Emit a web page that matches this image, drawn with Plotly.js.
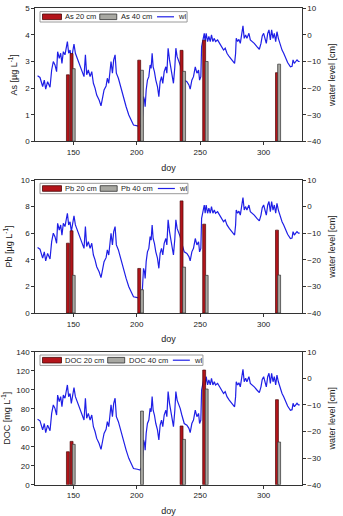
<!DOCTYPE html>
<html>
<head>
<meta charset="utf-8">
<script src="https://cdn.plot.ly/plotly-3.0.1.min.js"></script>
<style>
  html, body { margin: 0; padding: 0; background: #fff; }
  #chart { width: 343px; height: 516px; }
</style>
</head>
<body>
<div id="chart"></div>
<script>
// Sampling days (day of year) of the soil-solution samples
const days20 = [145.7, 148.6, 201.9, 235.3, 253.1, 310.5];
const days40 = [150.3, 204.1, 237.3, 255.1, 312.2];

// Concentrations at 20 cm and 40 cm depth
const as20  = [2.5, 3.3, 3.05, 3.42, 3.8, 2.58];
const as40  = [2.73, 2.67, 2.63, 3.0, 2.9];
const pb20  = [5.25, 6.18, 3.35, 8.43, 6.68, 6.23];
const pb40  = [2.83, 1.75, 3.45, 2.83, 2.85];
const doc20 = [34.7, 45.6, null, 61.8, 120.7, 89.5];
const doc40 = [42.5, 77.5, 47.7, 100.7, 44.9];

// Water level record
const wlDay = [121.8,123.7,125.8,127.1,128.2,129.7,131.6,132.9,134.2,135.5,136.8,137.6,138.9,140.0,141.0,142.1,143.4,144.2,145.3,146.3,147.4,148.4,149.5,150.5,151.6,153.9,156.6,158.4,159.5,160.5,161.8,163.2,164.5,165.8,167.1,168.4,170.3,171.8,173.2,174.2,175.8,176.8,177.9,178.9,179.7,180.8,181.8,182.9,183.9,185.5,187.4,189.5,191.6,193.7,195.8,197.4,200.5,202.6,204.2,204.7,205.3,206.1,206.6,207.4,208.4,209.5,210.5,211.3,212.1,212.9,213.9,215.0,216.3,217.4,218.4,219.5,220.5,221.6,222.9,223.7,224.7,225.8,226.8,227.9,228.9,230.0,230.8,231.8,232.9,234.2,235.5,237.4,239.5,241.1,242.1,243.4,244.7,246.1,247.4,248.7,249.5,250.5,251.1,252.1,253.2,253.9,254.7,255.8,256.8,257.9,258.9,260.0,261.1,262.1,263.7,265.3,267.1,268.4,269.7,271.1,272.9,275.0,277.1,277.9,278.4,279.5,280.5,281.6,282.6,283.7,284.7,285.8,286.8,288.4,289.5,291.1,292.6,294.7,296.6,297.9,298.9,300.0,301.1,302.1,303.2,304.2,305.3,306.3,307.4,308.4,309.5,310.5,311.6,313.2,314.5,315.8,317.4,318.9,321.1,322.4,323.2,324.2,325.3,326.3,327.4,328.4];
const wlLevel = [-15.4,-16,-19.4,-17,-20.4,-17.6,-19.7,-13.2,-10,-11.3,-13.8,-6.3,-8.8,-6.9,-10.7,-6.3,-7.5,-5.4,-2.5,-6.9,-5.7,-9.4,-6.9,-3.5,-6.9,-10,-13.2,-15.7,-7.5,-15,-13.2,-15.7,-13.8,-18.2,-20,-22.6,-24.5,-26.7,-23.2,-20.7,-19.2,-16.3,-18.2,-13.2,-10,-14.4,-9.4,-7.5,-14.4,-16.3,-20,-23.8,-27,-30.1,-32.6,-33.9,-34.2,-34.5,-33.2,-27,-23.2,-24.5,-27,-20.7,-17,-15.7,-11.3,-12.6,-6.9,-12,-13.8,-17,-19.4,-23.2,-17.6,-15.7,-18.2,-13.8,-12,-14.4,-5,-9.4,-12,-16.3,-18.2,-12,-5,-8.2,-9.4,-11.3,-13.8,-17,-17.6,-18.8,-20.4,-17,-15.7,-12,-14.4,-13.2,-17,-15.7,-4.4,-2.5,0.6,-2.5,0.6,-2.5,-0.6,-2.5,0,-2.5,-1.3,-2.5,-1.9,-3.2,-4.4,-5.7,-5,-6.9,-8.2,-9.4,-10.7,-6.9,-1.3,-2.5,-1.7,-3.2,0.6,3.4,-1.3,0,-1.3,0.6,-1.9,-2.5,-3.2,-4.4,-5.4,-3.2,-0.4,0.6,-1.9,-3.2,0.6,1.9,-1.9,1.9,-1.3,0.6,-2.5,1.2,-1.3,-3.8,-5.7,-6.9,-8.8,-10.4,-12,-11.8,-9.4,-10.7,-10,-9.4,-10,-10];

// Panel definitions
const panels = [
  { name: 'As',  unit: 'µg L<sup>-1</sup>', v20: as20,  v40: as40,  range: [0, 5],   dtick: 1 },
  { name: 'Pb',  unit: 'µg L<sup>-1</sup>', v20: pb20,  v40: pb40,  range: [0, 10],  dtick: 2 },
  { name: 'DOC', unit: 'mg L<sup>-1</sup>', v20: doc20, v40: doc40, range: [0, 140], dtick: 20 }
];

const W = 343, H = 516;
const plotLeft = 35.3, plotRight = 301.7;
const panelTops = [8.3, 180, 351.7];
const panelH = 133;

const FONT = 'Liberation Sans, Arial, sans-serif';
const TXT = '#222';
const RED = '#b3141a', RED_EDGE = '#4a0808';
const GRAY = '#a8a8a2', GRAY_EDGE = '#303030';
const BLUE = '#1f1fe6';
const AXIS = '#333';

const px2x = p => p / W;
const px2y = p => 1 - p / H;

// text width measurement for the legend rows
const ctx = document.createElement('canvas').getContext('2d');
function textW(s, size) {
  ctx.font = size + 'px "Liberation Sans", Arial, sans-serif';
  return ctx.measureText(s).width;
}

const data = [];
const layout = {
  width: W, height: H,
  margin: { l: 0, r: 0, t: 0, b: 0 },
  paper_bgcolor: '#fff', plot_bgcolor: 'rgba(0,0,0,0)',
  showlegend: false,
  barmode: 'overlay',
  font: { family: FONT, color: TXT, size: 8 },
  shapes: [], annotations: []
};

panels.forEach((p, i) => {
  const n = i + 1;
  const xa = n === 1 ? 'x' : 'x' + n;
  const yWl = 'y' + (2 * n - 1 === 1 ? '' : 2 * n - 1);
  const yC = 'y' + (2 * n);
  const xKey = n === 1 ? 'xaxis' : 'xaxis' + n;
  const yWlKey = 'yaxis' + (2 * n - 1 === 1 ? '' : 2 * n - 1);
  const yCKey = 'yaxis' + (2 * n);
  const top = panelTops[i], bottom = top + panelH;
  const dom = [px2y(bottom), px2y(top)];

  // water level line (right axis)
  data.push({
    type: 'scatter', mode: 'lines', x: wlDay, y: wlLevel,
    xaxis: xa, yaxis: yWl,
    line: { color: BLUE, width: 1.2 }, hoverinfo: 'skip'
  });
  // concentration bars (left axis)
  data.push({
    type: 'bar', x: days20, y: p.v20, width: 2.3,
    xaxis: xa, yaxis: yC,
    marker: { color: RED, line: { color: RED_EDGE, width: 0.7 } }
  });
  data.push({
    type: 'bar', x: days40, y: p.v40, width: 2.3,
    xaxis: xa, yaxis: yC,
    marker: { color: GRAY, line: { color: GRAY_EDGE, width: 0.7 } }
  });

  layout[xKey] = {
    domain: [px2x(plotLeft), px2x(plotRight)],
    anchor: yWl, range: [120, 330],
    tickvals: [150, 200, 250, 300], ticks: 'outside', ticklen: 3, tickcolor: AXIS,
    showline: true, linecolor: AXIS, linewidth: 1, mirror: true,
    showgrid: false, zeroline: false,
    tickfont: { size: 8, color: TXT },
    title: { text: 'doy', font: { size: 9, color: TXT }, standoff: 8 }
  };
  layout[yWlKey] = {
    domain: dom, anchor: xa, side: 'right', range: [-40, 10], dtick: 10,
    ticks: 'outside', ticklen: 3, tickcolor: AXIS,
    showline: true, linecolor: AXIS, linewidth: 1,
    showgrid: false, zeroline: false,
    tickfont: { size: 8, color: TXT },
    title: { text: 'water level [cm]', font: { size: 9, color: TXT }, standoff: 8 }
  };
  layout[yCKey] = {
    overlaying: yWl, anchor: xa, side: 'left', range: p.range, dtick: p.dtick,
    ticks: 'outside', ticklen: 3, tickcolor: AXIS,
    showline: true, linecolor: AXIS, linewidth: 1,
    showgrid: false, zeroline: false,
    tickfont: { size: 8, color: TXT },
    title: { text: p.name + ' [' + p.unit + ']', font: { size: 9, color: TXT }, standoff: 6 }
  };

  // legend row
  const fs = 7.5;
  const yc = top + 8.5;
  let x = 42.5;
  const sw = (x0, x1, fill, edge) => layout.shapes.push({
    type: 'rect', xref: 'paper', yref: 'paper',
    x0: px2x(x0), x1: px2x(x1), y0: px2y(yc + 2.8), y1: px2y(yc - 2.8),
    fillcolor: fill, line: { color: edge, width: 0.8 }
  });
  const label = (x0, s) => layout.annotations.push({
    xref: 'paper', yref: 'paper', x: px2x(x0), y: px2y(yc),
    xanchor: 'left', yanchor: 'middle', showarrow: false,
    text: s, font: { size: fs, color: TXT, family: FONT }
  });
  const lab20 = p.name + ' 20 cm', lab40 = p.name + ' 40 cm';
  sw(x, x + 19, RED, RED_EDGE); x += 21;
  label(x - 1, lab20); x += textW(lab20, fs) + 5;
  sw(x, x + 17, GRAY, GRAY_EDGE); x += 20;
  label(x - 1, lab40); x += textW(lab40, fs) + 6;
  layout.shapes.push({
    type: 'line', xref: 'paper', yref: 'paper',
    x0: px2x(x), x1: px2x(x + 17), y0: px2y(yc), y1: px2y(yc),
    line: { color: BLUE, width: 1.2 }
  });
  x += 20;
  label(x - 1, 'wl'); x += textW('wl', fs) + 3;
  layout.shapes.push({
    type: 'rect', xref: 'paper', yref: 'paper',
    x0: px2x(40), x1: px2x(x), y0: px2y(yc + 5.2), y1: px2y(yc - 5.2),
    fillcolor: 'rgba(255,255,255,0)', line: { color: '#9a9a9a', width: 1 }, layer: 'above'
  });
});

Plotly.newPlot('chart', data, layout, { staticPlot: true, displayModeBar: false });
</script>
</body>
</html>
